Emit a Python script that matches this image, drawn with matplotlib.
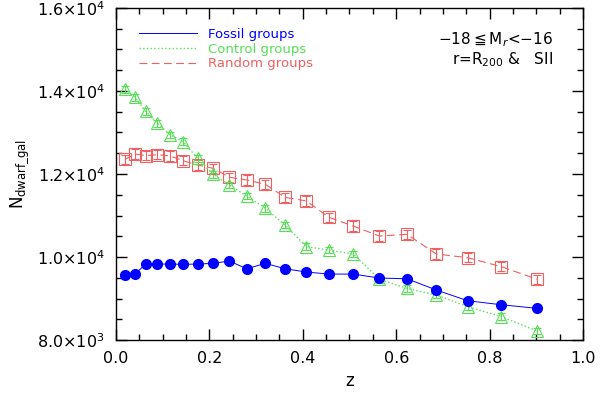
import matplotlib.pyplot as plt
from matplotlib.lines import Line2D
from matplotlib.ticker import MultipleLocator

# redshifts of the snapshots
z = [0.020, 0.041, 0.064, 0.089, 0.116, 0.144, 0.175, 0.208, 0.243, 0.280,
     0.320, 0.362, 0.408, 0.456, 0.508, 0.564, 0.623, 0.686, 0.753, 0.825, 0.902]

fossil = [9566, 9590, 9831, 9831, 9831, 9824, 9831, 9848, 9904, 9718,
          9848, 9718, 9639, 9590, 9590, 9494, 9477, 9205, 8947, 8851, 8764]
fossil_err = [60, 60, 60, 60, 60, 60, 60, 60, 60, 60,
              60, 60, 60, 60, 60, 60, 70, 70, 70, 70, 70]

control = [14042, 13849, 13512, 13222, 12940, 12779, 12379, 11993, 11736, 11470,
           11174, 10771, 10249, 10169, 10073, 9463, 9246, 9085, 8805, 8563, 8217]
control_err = [80, 80, 80, 80, 80, 80, 80, 80, 80, 80,
               80, 80, 80, 80, 80, 80, 80, 80, 80, 80, 80]

random_grp = [12355, 12483, 12442, 12466, 12434, 12321, 12217, 12138, 11921, 11856,
              11752, 11439, 11350, 10957, 10747, 10506, 10547, 10073, 9984, 9767, 9463]
random_err = [110, 110, 110, 110, 110, 110, 110, 110, 110, 110,
              110, 110, 110, 110, 110, 110, 110, 110, 110, 110, 110]

ytick_vals = [8000, 10000, 12000, 14000, 16000]
ytick_labels = [r'8.0$\times$10$^3$', r'1.0$\times$10$^4$', r'1.2$\times$10$^4$',
                r'1.4$\times$10$^4$', r'1.6$\times$10$^4$']

blue = '#0000ff'
green = '#55e055'
red = '#f06060'

plt.rcParams['font.family'] = ['DejaVu Sans']
fig = plt.figure(figsize=(6.0, 3.95), dpi=100)
ax = fig.add_axes([0.193, 0.139, 0.779, 0.841])

ax.errorbar(z, random_grp, yerr=random_err, color=red, ls=(0, (7, 4)), lw=0.8,
            marker='s', ms=8, mfc='none', mec=red, mew=0.8, elinewidth=0.8,
            capsize=3, capthick=0.8)
ax.errorbar(z, control, yerr=control_err, color=green, ls=':', lw=1.0,
            marker='^', ms=8, mfc='none', mec=green, mew=0.8, elinewidth=0.8,
            capsize=3, capthick=0.8)
ax.errorbar(z, fossil, yerr=fossil_err, color=blue, ls='-', lw=0.7,
            marker='o', ms=7, mfc=blue, mec=blue, elinewidth=0.8,
            ecolor='#8888ff', capsize=0)

ax.set_xlim(0.0, 1.0)
ax.set_ylim(8000, 16000)
ax.xaxis.set_major_locator(MultipleLocator(0.2))
ax.xaxis.set_minor_locator(MultipleLocator(0.05))
ax.set_yticks(ytick_vals)
ax.set_yticklabels(ytick_labels)
ax.yaxis.set_minor_locator(MultipleLocator(500))
ax.set_xticks([0.0, 0.2, 0.4, 0.6, 0.8, 1.0])
ax.set_xticklabels(['0.0', '0.2', '0.4', '0.6', '0.8', '1.0'])
ax.tick_params(which='both', direction='in', top=True, right=True, labelsize=11.5, width=1.0)
ax.tick_params(which='major', length=8, pad=8)
ax.tick_params(which='minor', length=4)
for s in ax.spines.values():
    s.set_linewidth(1.0)

ax.set_xlabel('z', fontsize=12)
ax.set_ylabel(r'N$_{\rm dwarf\_gal}$', fontsize=12, labelpad=4)

handles = [Line2D([], [], color=blue, lw=0.7, ls='-'),
           Line2D([], [], color=green, lw=1.0, ls=':'),
           Line2D([], [], color=red, lw=0.8, ls=(0, (7, 4)))]
leg = ax.legend(handles, ['Fossil groups', 'Control groups', 'Random groups'],
                loc='upper left', bbox_to_anchor=(0.03, 0.967), frameon=False,
                handlelength=4.4, handletextpad=0.8, labelspacing=0.12, fontsize=9.5,
                borderaxespad=0.3)
for t, c in zip(leg.get_texts(), [blue, green, red]):
    t.set_color(c)

ax.text(0.935, 0.904, r'$-$18$\leqq$M$_r$<$-$16', transform=ax.transAxes,
        ha='right', va='center', fontsize=11)
ax.text(0.935, 0.843, r'r=R$_{200}$ &   SII', transform=ax.transAxes,
        ha='right', va='center', fontsize=11)

fig.savefig('out.png', dpi=100)
